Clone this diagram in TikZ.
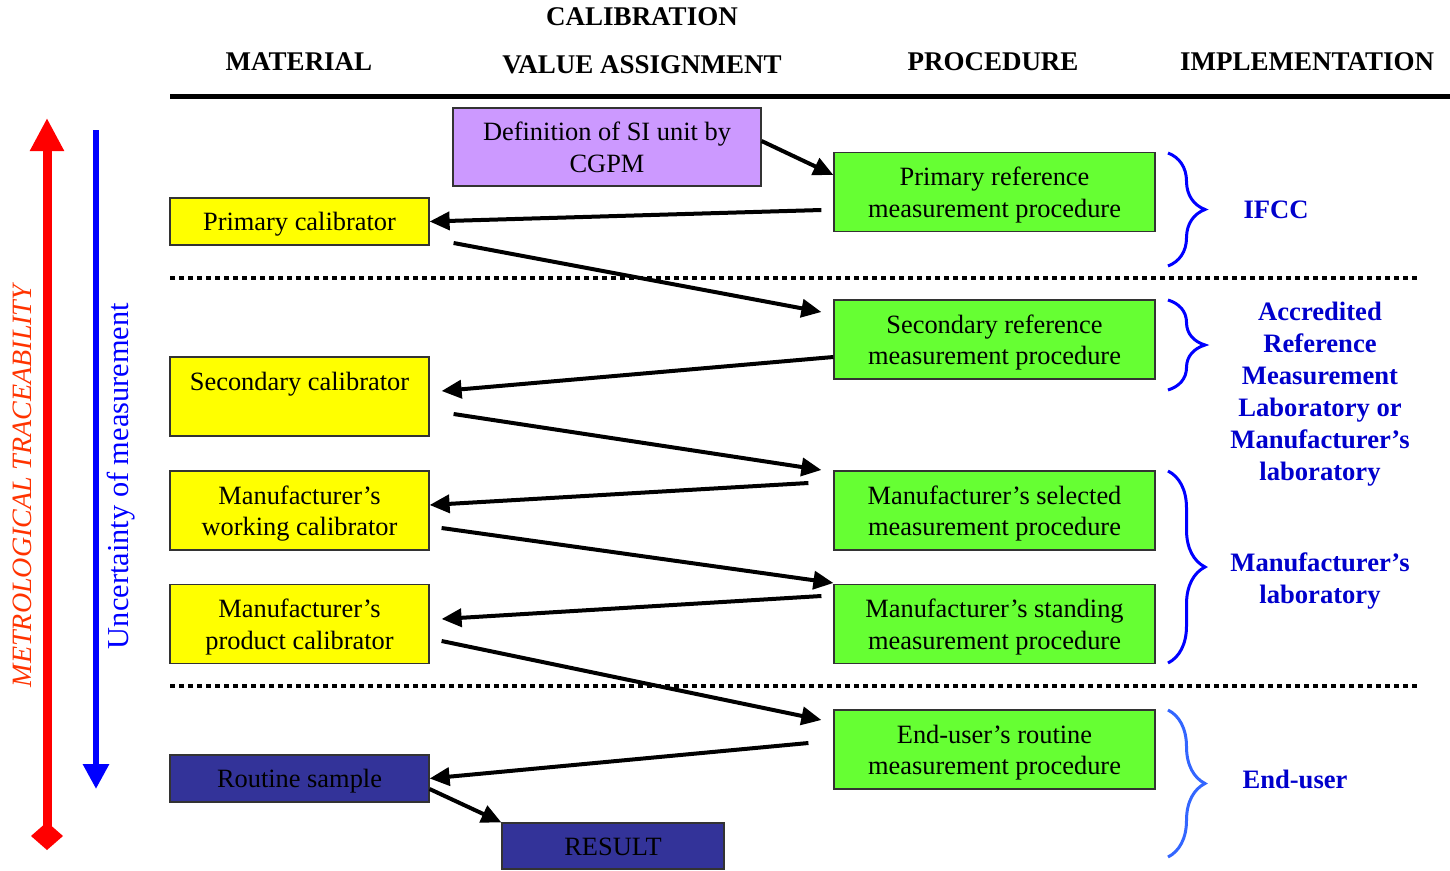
\documentclass[tikz,border=0pt]{standalone}
\usepackage{fontspec}
\setmainfont{Liberation Serif}
\usetikzlibrary{arrows.meta,calc,decorations.pathreplacing}
\definecolor{calyellow}{HTML}{FFFF00}
\definecolor{procgreen}{HTML}{66FF33}
\definecolor{sipurple}{HTML}{CC99FF}
\definecolor{samplenavy}{HTML}{333399}
\definecolor{implblue}{HTML}{0000CC}
\definecolor{braceblue}{HTML}{0000FF}
\definecolor{userblue}{HTML}{3366FF}
\definecolor{tracered}{HTML}{FF0000}
\definecolor{traceorange}{HTML}{FF3300}
\begin{document}
\begin{tikzpicture}[x=1pt,y=-1pt,
  box/.style={draw=black!80,line width=1.2pt,align=center,inner sep=0pt,
    font=\fontsize{26.4}{31.5}\selectfont,
    execute at begin node={\rule{0pt}{24pt}},
    execute at end node={\rule[-6pt]{0pt}{6pt}}},
  two line/.style={execute at begin node={\rule{0pt}{56.5pt}}},
  mat node/.style={box,fill=calyellow,minimum width=259pt,minimum height=79pt},
  proc node/.style={box,two line,fill=procgreen,minimum width=321pt,minimum height=79pt},
  flow/.style={line width=4pt,-{Triangle[length=20pt,width=18pt]}},
  head/.style={font=\fontsize{27}{31}\selectfont\bfseries},
  impl/.style={text=implblue,align=center,font=\fontsize{26.6}{32}\selectfont\bfseries},
  grp/.style={decorate,decoration={brace,amplitude=37pt},line width=3pt,draw=braceblue},
  level line/.style={line width=4pt,dash pattern=on 5pt off 4pt}]
  \useasboundingbox (0,0) rectangle (1450,870);

  % column heads
  \node[head] (hcal) at (642,17) {CALIBRATION};
  \node[head] (hmat) at (299,62) {MATERIAL};
  \node[head] (hval) at (642,65) {VALUE ASSIGNMENT};
  \node[head] (hpro) at (993,62) {PROCEDURE};
  \node[head] (himp) at (1307,62) {IMPLEMENTATION};
  \draw[line width=5pt] (170,96) -- (1450,96);
  \draw[level line] (170,278) -- (1420,278);
  \draw[level line] (170,686) -- (1420,686);

  % side arrows
  \coordinate (trb) at (47,850);
  \coordinate (trt) at (47,118);
  \coordinate (unt) at (96,130);
  \coordinate (unb) at (96,789);
  \draw[line width=9pt,draw=tracered,
    {Diamond[length=28pt,width=32pt]}-{Triangle[length=33pt,width=32pt]}] (trb) -- (trt);
  \draw[line width=6pt,draw=braceblue,-{Triangle[length=25pt,width=25pt]}] (unt) -- (unb);
  \node[rotate=90,text=traceorange,font=\fontsize{28}{30}\selectfont\itshape] (trlab) at (22,486)
    {METROLOGICAL TRACEABILITY};
  \node[rotate=90,text=braceblue,font=\fontsize{30.4}{34}\selectfont] (unlab) at (121,476)
    {Uncertainty of measurement};

  % materials
  \node[box,two line,fill=sipurple,minimum width=308pt,minimum height=78pt] (si) at (607,147)
    {Definition of SI unit by\\CGPM};
  \node[mat node,minimum height=47pt] (pc) at (299.5,221.5) {Primary calibrator};
  \node[mat node,two line] (sc) at (299.5,396.5) {Secondary calibrator\\~};
  \node[mat node,two line] (wc) at (299.5,510.5) {Manufacturer’s\\working calibrator};
  \node[mat node,two line] (prc) at (299.5,624) {Manufacturer’s\\product calibrator};
  \node[mat node,fill=samplenavy,minimum height=47pt] (rs) at (299.5,778.5) {Routine sample};
  \node[box,fill=samplenavy,minimum width=222pt,minimum height=46pt] (res) at (613,846) {RESULT};

  % procedures
  \node[proc node] (prm) at (994.5,192) {Primary reference\\measurement procedure};
  \node[proc node] (srm) at (994.5,339.5) {Secondary reference\\measurement procedure};
  \node[proc node] (sel) at (994.5,510.5) {Manufacturer’s selected\\measurement procedure};
  \node[proc node] (std) at (994.5,624) {Manufacturer’s standing\\measurement procedure};
  \node[proc node] (eu) at (994.5,749.5) {End-user’s routine\\measurement procedure};

  % calibration chain
  \draw[flow] ($(si.east)+(0,-6)$) -- ($(prm.west)+(0,-17)$);
  \draw[flow] ($(prm.west)+(-12,18)$) -- (pc.east);
  \draw[flow] ($(pc.east)+(24,21.5)$) -- ($(srm.west)+(-12,-27.5)$);
  \draw[flow] ($(srm.west)+(0,17.5)$) -- ($(sc.east)+(12,-5.5)$);
  \draw[flow] ($(sc.east)+(24,17.5)$) -- ($(sel.west)+(-12,-40.5)$);
  \draw[flow] ($(sel.west)+(-25,-27.5)$) -- ($(wc.east)+(0,-5.5)$);
  \draw[flow] ($(wc.east)+(12,17.5)$) -- ($(std.west)+(0,-41)$);
  \draw[flow] ($(std.west)+(-12,-28)$) -- ($(prc.east)+(12,-5)$);
  \draw[flow] ($(prc.east)+(12,17)$) -- ($(eu.west)+(-12,-29.5)$);
  \draw[flow] ($(eu.west)+(-25,-6.5)$) -- (rs.east);
  \draw[flow] ($(rs.east)+(0,10.5)$) -- (res.north west);

  % implementation
  \draw[grp] (1168,153) -- (1168,266);
  \draw[grp] (1168,300) -- (1168,390);
  \draw[grp] (1168,471) -- (1168,663);
  \draw[grp,draw=userblue] (1168,710) -- (1168,857);
  \node[impl] (ifcc) at (1276,210) {IFCC};
  \node[impl] (arml) at (1320,394) {Accredited\\Reference\\Measurement\\Laboratory or\\Manufacturer’s\\laboratory};
  \node[impl] (mlab) at (1320,581) {Manufacturer’s\\laboratory};
  \node[impl] (euser) at (1295,779) {End-user};
\end{tikzpicture}
\end{document}
